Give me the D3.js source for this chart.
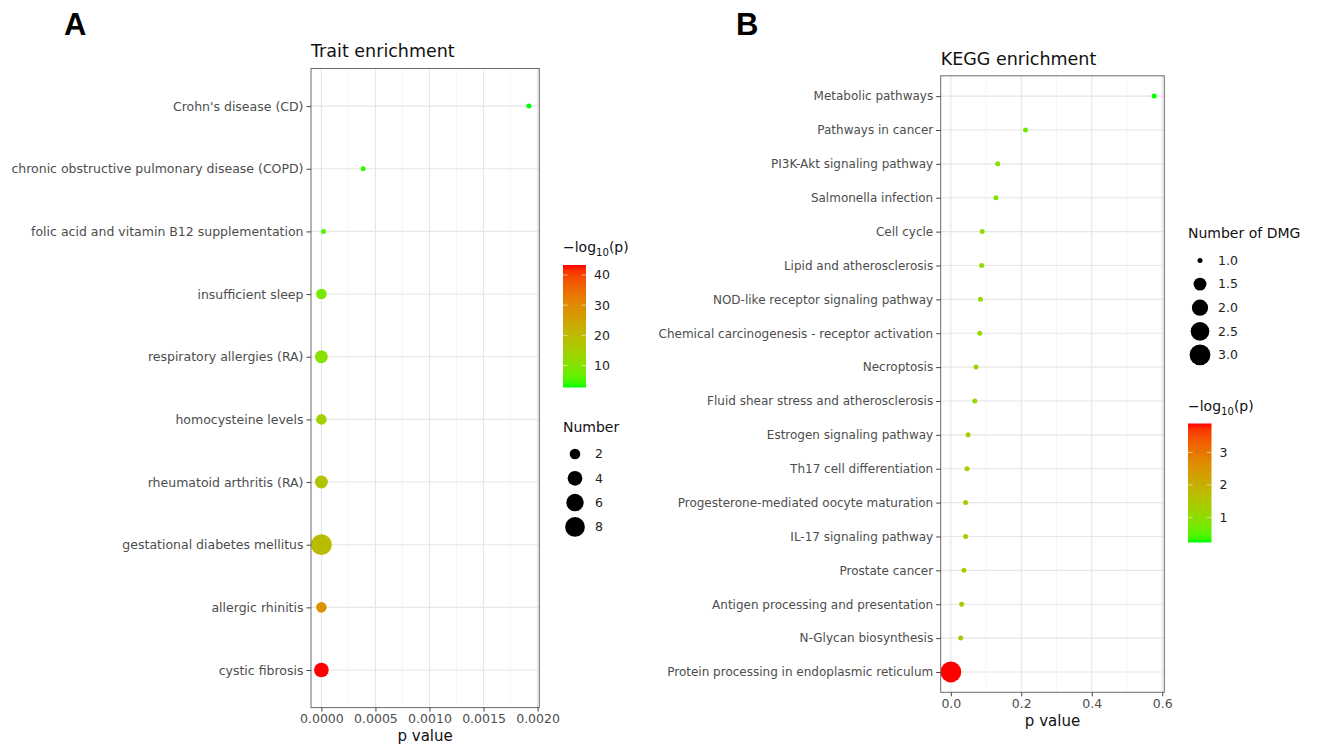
<!DOCTYPE html>
<html>
<head>
<meta charset="utf-8">
<script src="https://cdn.jsdelivr.net/npm/d3@7"></script>
<style>
  html, body { margin: 0; padding: 0; background: #fff; }
  svg { display: block; font-family: "DejaVu Sans", sans-serif; }
</style>
</head>
<body>
<svg id="chart" width="1317" height="744"></svg>
<script>
// ---------------- Data ----------------
// Panel A: trait enrichment (top to bottom)
const traitNames = [
  "Crohn's disease (CD)",
  "chronic obstructive pulmonary disease (COPD)",
  "folic acid and vitamin B12 supplementation",
  "insufficient sleep",
  "respiratory allergies (RA)",
  "homocysteine levels",
  "rheumatoid arthritis (RA)",
  "gestational diabetes mellitus",
  "allergic rhinitis",
  "cystic fibrosis"
];
const traitP = [0.00192, 0.000387, 2e-5, 3e-9, 2e-11, 3e-15, 2e-18, 5e-20, 3e-29, 5e-44];
const traitNumber = [1, 1, 1, 2, 3, 2, 3, 9, 2, 4];
const traitXTicks = [0, 0.0005, 0.001, 0.0015, 0.002];
const traitColorTicks = [10, 20, 30, 40];
const traitSizeBreaks = [2, 4, 6, 8];

// Panel B: KEGG enrichment (top to bottom)
const keggNames = [
  "Metabolic pathways",
  "Pathways in cancer",
  "PI3K-Akt signaling pathway",
  "Salmonella infection",
  "Cell cycle",
  "Lipid and atherosclerosis",
  "NOD-like receptor signaling pathway",
  "Chemical carcinogenesis - receptor activation",
  "Necroptosis",
  "Fluid shear stress and atherosclerosis",
  "Estrogen signaling pathway",
  "Th17 cell differentiation",
  "Progesterone-mediated oocyte maturation",
  "IL-17 signaling pathway",
  "Prostate cancer",
  "Antigen processing and presentation",
  "N-Glycan biosynthesis",
  "Protein processing in endoplasmic reticulum"
];
const keggP = [0.577, 0.212, 0.133, 0.128, 0.089, 0.0875, 0.084, 0.082, 0.0715, 0.068,
               0.049, 0.046, 0.042, 0.042, 0.037, 0.031, 0.028, 0.00013];
const keggNumber = [1, 1, 1, 1, 1, 1, 1, 1, 1, 1, 1, 1, 1, 1, 1, 1, 1, 3];
const keggXTicks = [0, 0.2, 0.4, 0.6];
const keggColorTicks = [1, 2, 3];
const keggSizeBreaks = [1.0, 1.5, 2.0, 2.5, 3.0];

// ---------------- Drawing ----------------
const svg = d3.select("#chart");
const lowCol = "#00ff00", highCol = "#ff0000";
const interp = d3.interpolateLab(lowCol, highCol);
const axisGrey = "#4d4d4d";

function logp(p) { return -Math.log10(p); }

function addSubLabel(sel) {
  sel.append("tspan").text("\u2212log");
  sel.append("tspan").attr("font-size", "0.72em").attr("dy", 4).text("10");
  sel.append("tspan").attr("dy", -4).text("(p)");
}

function drawPanel(cfg) {
  const g = svg.append("g");
  const {left, right, top, bottom} = cfg.box;
  const lp = cfg.p.map(logp);

  // scales
  const pMin = d3.min(cfg.p), pMax = d3.max(cfg.p), span = pMax - pMin;
  const x = d3.scaleLinear().domain([pMin - 0.05 * span, pMax + 0.05 * span]).range([left, right]);
  const y = d3.scalePoint().domain(cfg.names).range([top, bottom]).padding(0.6);
  const cExt = d3.extent(lp);
  const cT = d3.scaleLinear().domain(cExt).range([0, 1]);
  const color = v => interp(cT(v));
  const nExt = d3.extent(cfg.n);
  const nT = d3.scaleLinear().domain(nExt).range([0, 1]);
  const rS = d3.scaleLinear().domain([0, 1]).range([2.5, 10.4]);
  const radius = v => rS(Math.sqrt(nT(v)));

  // panel bg
  g.append("rect").attr("x", left).attr("y", top).attr("width", right - left).attr("height", bottom - top)
    .attr("fill", "#fff");

  // minor grid
  const t = cfg.xTicks;
  const minor = [];
  for (let i = 0; i < t.length - 1; i++) minor.push((t[i] + t[i + 1]) / 2);
  g.selectAll(".minor").data(minor).join("line")
    .attr("x1", d => x(d)).attr("x2", d => x(d)).attr("y1", top).attr("y2", bottom)
    .attr("stroke", "#f0f0f0").attr("stroke-width", 0.6);
  // major grid
  g.selectAll(".gx").data(t).join("line")
    .attr("x1", d => x(d)).attr("x2", d => x(d)).attr("y1", top).attr("y2", bottom)
    .attr("stroke", "#e6e6e6").attr("stroke-width", 1.1);
  g.selectAll(".gy").data(cfg.names).join("line")
    .attr("x1", left).attr("x2", right).attr("y1", d => y(d)).attr("y2", d => y(d))
    .attr("stroke", "#e6e6e6").attr("stroke-width", 1.1);

  // points
  const data = cfg.names.map((nm, i) => ({nm, p: cfg.p[i], lp: lp[i], n: cfg.n[i]}));
  g.selectAll(".pt").data(data).join("circle")
    .attr("cx", d => x(d.p)).attr("cy", d => y(d.nm))
    .attr("r", d => radius(d.n))
    .attr("fill", d => color(d.lp));

  // border
  g.append("rect").attr("x", left).attr("y", top).attr("width", right - left).attr("height", bottom - top)
    .attr("fill", "none").attr("stroke", "#6a6a6a").attr("stroke-width", 1);

  // axes
  const xAxis = d3.axisBottom(x).tickValues(t).tickFormat(d3.format(cfg.xFormat)).tickSize(4).tickPadding(3);
  const xg = g.append("g").attr("transform", `translate(0,${bottom})`).call(xAxis);
  xg.select(".domain").remove();
  xg.selectAll(".tick line").attr("stroke", "#444").attr("stroke-width", 1);
  xg.selectAll(".tick text").attr("fill", axisGrey).attr("font-size", "12.5px").attr("font-family", "DejaVu Sans");

  const yAxis = d3.axisLeft(y).tickSize(4.5).tickPadding(3);
  const yg = g.append("g").attr("transform", `translate(${left},0)`).call(yAxis);
  yg.select(".domain").remove();
  yg.selectAll(".tick line").attr("stroke", "#444").attr("stroke-width", 1);
  yg.selectAll(".tick text").attr("fill", axisGrey).attr("font-size", cfg.yFont).attr("font-family", "DejaVu Sans");

  // axis title
  g.append("text").attr("x", (left + right) / 2).attr("y", cfg.xTitleY)
    .attr("text-anchor", "middle").attr("font-size", "15px").attr("fill", "#111").text("p value");
  // plot title
  g.append("text").attr("x", left).attr("y", cfg.titleY)
    .attr("font-size", "17.5px").attr("fill", "#111").text(cfg.title);
  // panel letter
  g.append("text").attr("x", cfg.letterX).attr("y", 35)
    .attr("font-family", "Liberation Sans, Arial, sans-serif").attr("font-weight", "bold")
    .attr("font-size", "31px").attr("fill", "#000").text(cfg.letter);

  // colour bar
  const cb = cfg.colorbar;
  const gradId = "grad" + cfg.letter;
  const grad = svg.append("defs").append("linearGradient").attr("id", gradId)
    .attr("x1", 0).attr("y1", 1).attr("x2", 0).attr("y2", 0);
  d3.range(0, 1.0001, 0.05).forEach(s => {
    grad.append("stop").attr("offset", s).attr("stop-color", interp(s));
  });
  const cy = d3.scaleLinear().domain(cExt).range([cb.bottom, cb.top]);
  const cbt = g.append("text").attr("x", cb.x).attr("y", cb.titleY).attr("font-size", "14px").attr("fill", "#111");
  addSubLabel(cbt);
  g.append("rect").attr("x", cb.x).attr("y", cb.top).attr("width", cb.w).attr("height", cb.bottom - cb.top)
    .attr("fill", `url(#${gradId})`);
  cfg.colorTicks.forEach(v => {
    const yy = cy(v);
    g.append("line").attr("x1", cb.x).attr("x2", cb.x + cb.w * 0.2).attr("y1", yy).attr("y2", yy)
      .attr("stroke", "#fff").attr("stroke-width", 0.8).attr("opacity", 0.7);
    g.append("line").attr("x1", cb.x + cb.w * 0.8).attr("x2", cb.x + cb.w).attr("y1", yy).attr("y2", yy)
      .attr("stroke", "#fff").attr("stroke-width", 0.8).attr("opacity", 0.7);
    g.append("text").attr("x", cb.x + cb.w + 8).attr("y", yy).attr("dy", "0.35em")
      .attr("font-size", "12.5px").attr("fill", "#222").text(v);
  });

  // size legend
  const sl = cfg.sizeLegend;
  g.append("text").attr("x", sl.titleX).attr("y", sl.titleY).attr("font-size", "14px").attr("fill", "#111")
    .text(sl.title);
  cfg.sizeBreaks.forEach((v, i) => {
    const yy = sl.firstY + i * sl.step;
    g.append("circle").attr("cx", sl.cx).attr("cy", yy).attr("r", radius(v)).attr("fill", "#000");
    g.append("text").attr("x", sl.labelX).attr("y", yy).attr("dy", "0.35em")
      .attr("font-size", "12.5px").attr("fill", "#222").text(d3.format(sl.fmt)(v));
  });
}

drawPanel({
  letter: "A", letterX: 64,
  title: "Trait enrichment", titleY: 57,
  names: traitNames, p: traitP, n: traitNumber, yFont: "12.5px",
  box: {left: 311, right: 539.3, top: 68.5, bottom: 707.6},
  xTicks: traitXTicks, xFormat: ".4f", xTitleY: 741,
  colorTicks: traitColorTicks,
  colorbar: {x: 563, w: 23, top: 265, bottom: 387.5, titleY: 252},
  sizeBreaks: traitSizeBreaks,
  sizeLegend: {title: "Number", titleX: 563, titleY: 432, firstY: 454, step: 24.3, cx: 575, labelX: 595, fmt: "d"}
});

drawPanel({
  letter: "B", letterX: 736,
  title: "KEGG enrichment", titleY: 65,
  names: keggNames, p: keggP, n: keggNumber, yFont: "12px",
  box: {left: 940.7, right: 1164.3, top: 75.8, bottom: 692.3},
  xTicks: keggXTicks, xFormat: ".1f", xTitleY: 726,
  colorTicks: keggColorTicks,
  colorbar: {x: 1188, w: 23.5, top: 423.5, bottom: 542.5, titleY: 411},
  sizeBreaks: keggSizeBreaks,
  sizeLegend: {title: "Number of DMG", titleX: 1188, titleY: 238, firstY: 260.5, step: 23.6, cx: 1200, labelX: 1218, fmt: ".1f"}
});
</script>
</body>
</html>
